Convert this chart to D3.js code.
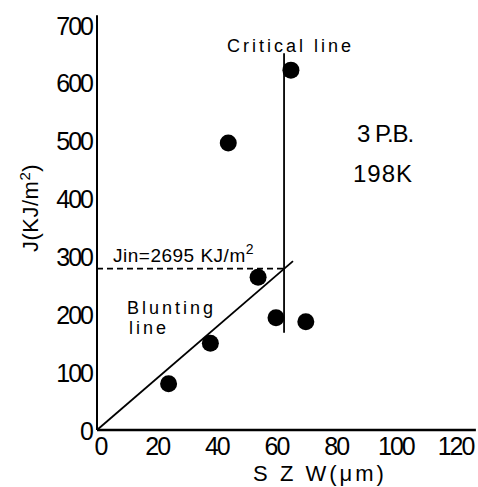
<!DOCTYPE html>
<html>
<head>
<meta charset="utf-8">
<script src="https://cdn.jsdelivr.net/npm/d3@7"></script>
<style>
  body { margin: 0; background: #fff; }
  text { font-family: "Liberation Sans", "DejaVu Sans", sans-serif; fill: #000; }
</style>
</head>
<body>
<div id="chart"></div>
<script>
// measured points: SZW (um), J (kJ/m2)
const szw = [24, 38, 44, 54, 60, 70, 65]
const jValues = [80, 150, 496, 264, 194, 187, 622]
const xTicks = [0, 20, 40, 60, 80, 100, 120]
const yTicks = [0, 100, 200, 300, 400, 500, 600, 700]
const blunting = [[0, 0], [65.7, 292]]
const critical = [[62.7, 168], [62.7, 651]]
const jinLine = [[0, 279], [62.7, 279]]

const chart_width = 478
const chart_height = 487

const svg = d3.select("#chart")
  .append("svg")
  .attr("width", chart_width)
  .attr("height", chart_height)

const x = d3.scaleLinear().domain([0, 120]).range([97, 455])
const y = d3.scaleLinear().domain([0, 700]).range([430, 25])

// axis lines drawn a bit past the last tick, like the original
svg.append("line")
  .attr("x1", x(0)).attr("x2", x(0))
  .attr("y1", y(0)).attr("y2", y(717))
  .attr("stroke", "#000").attr("stroke-width", 2)
svg.append("line")
  .attr("x1", x(0)).attr("x2", x(127))
  .attr("y1", y(0)).attr("y2", y(0))
  .attr("stroke", "#000").attr("stroke-width", 2.5)

const yAxis = svg.append("g")
  .attr("transform", `translate(${x(0) - 5},0)`)
  .call(d3.axisLeft(y).tickValues(yTicks).tickSize(0).tickPadding(0))
yAxis.select(".domain").remove()
yAxis.selectAll("text")
  .style("font-size", "25px")
  .style("letter-spacing", "-2px")
  .attr("dy", "0.36em")

const xAxis = svg.append("g")
  .attr("transform", `translate(0,${y(0)})`)
  .call(d3.axisBottom(x).tickValues(xTicks).tickSize(0))
xAxis.select(".domain").remove()
xAxis.selectAll("text")
  .style("font-size", "25px")
  .style("letter-spacing", "-2px")
  .attr("y", 25)
  .attr("dy", 0)
xAxis.selectAll("text").filter(d => d === 0).attr("dx", 3)

const line = d3.line().x(d => x(d[0])).y(d => y(d[1]))

svg.append("path").attr("d", line(blunting))
  .attr("fill", "none").attr("stroke", "#000").attr("stroke-width", 1.8)
svg.append("path").attr("d", line(critical))
  .attr("fill", "none").attr("stroke", "#000").attr("stroke-width", 1.8)
svg.append("path").attr("d", line(jinLine))
  .attr("fill", "none").attr("stroke", "#000").attr("stroke-width", 1.6)
  .attr("stroke-dasharray", "6,4")

svg.selectAll(".pt")
  .data(szw)
  .enter()
  .append("circle")
  .attr("class", "pt")
  .attr("cx", d => x(d))
  .attr("cy", (d, i) => y(jValues[i]))
  .attr("r", 8.5)
  .attr("fill", "#000")

// labels
svg.append("text")
  .attr("x", 227).attr("y", 52)
  .style("font-size", "18px").style("letter-spacing", "3px")
  .text("Critical line")

svg.append("text")
  .attr("x", 357).attr("y", 142)
  .style("font-size", "24px").style("letter-spacing", "-1px")
  .text("3 P.B.")
svg.append("text")
  .attr("x", 353).attr("y", 182)
  .style("font-size", "24px").style("letter-spacing", "1px")
  .text("198K")

const jin = svg.append("text")
  .attr("x", 113).attr("y", 262)
  .style("font-size", "19px").style("letter-spacing", "0.5px")
jin.append("tspan").text("Jin=2695 KJ/m")
jin.append("tspan").attr("dy", -8).style("font-size", "14px").text("2")

svg.append("text")
  .attr("x", 127).attr("y", 314)
  .style("font-size", "18px").style("letter-spacing", "3px")
  .text("Blunting")
svg.append("text")
  .attr("x", 129).attr("y", 334)
  .style("font-size", "18px").style("letter-spacing", "3px")
  .text("line")

svg.append("text")
  .attr("x", 320).attr("y", 481)
  .attr("text-anchor", "middle")
  .style("font-size", "22px").style("letter-spacing", "3px")
  .text("S Z W(μm)")

const ylab = svg.append("text")
  .attr("transform", "translate(38,208) rotate(-90)")
  .attr("text-anchor", "middle")
  .style("font-size", "22px").style("letter-spacing", "0.5px")
ylab.append("tspan").text("J(KJ/m")
ylab.append("tspan").attr("dy", -8).style("font-size", "15px").text("2")
ylab.append("tspan").attr("dy", 8).text(")")
</script>
</body>
</html>
